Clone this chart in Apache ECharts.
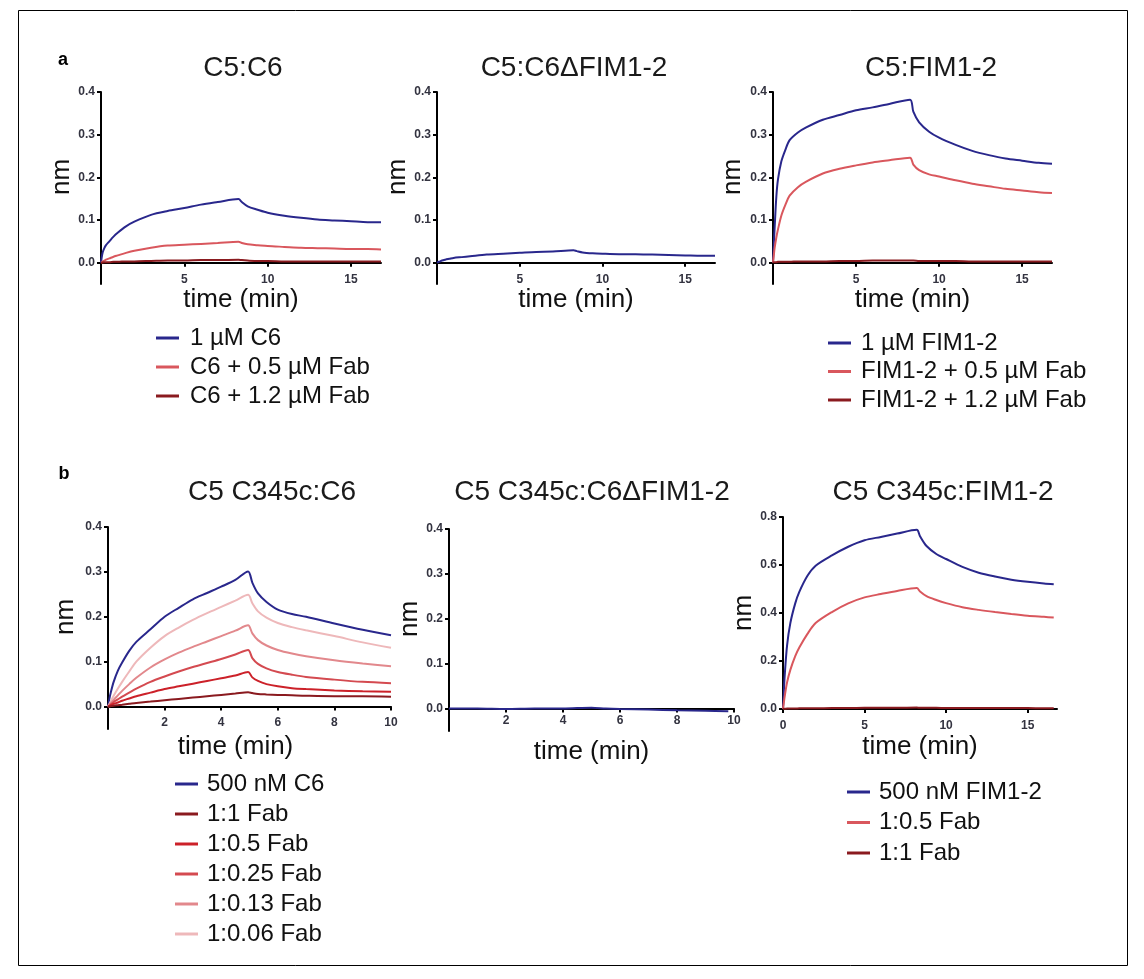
<!DOCTYPE html>
<html>
<head>
<meta charset="utf-8">
<script src="https://cdn.jsdelivr.net/npm/echarts@6/dist/echarts.min.js"></script>
<style>html,body{margin:0;padding:0;background:#fff;}#c{width:1144px;height:979px;}</style>
</head>
<body>
<div id="c"></div>
<script>
// ---------- data ----------
const panelTitles = ['C5:C6', 'C5:C6\u0394FIM1-2', 'C5:FIM1-2', 'C5 C345c:C6', 'C5 C345c:C6\u0394FIM1-2', 'C5 C345c:FIM1-2'];

// top row time points (min)
const tA = [0, 0.05, 0.1, 0.2, 0.3, 0.5, 0.75, 1, 1.5, 2, 3, 4, 5, 6, 7, 8.25, 8.45, 8.8, 9.4, 10, 11, 12, 13, 14, 15, 16, 16.8];
const a1Blue = [0, 0.014, 0.024, 0.034, 0.041, 0.050, 0.061, 0.070, 0.085, 0.096, 0.112, 0.121, 0.128, 0.136, 0.142, 0.149, 0.142, 0.132, 0.124, 0.117, 0.110, 0.105, 0.101, 0.099, 0.097, 0.095, 0.095];
const a1Red = [0, 0.001, 0.003, 0.005, 0.007, 0.010, 0.014, 0.017, 0.023, 0.028, 0.035, 0.040, 0.042, 0.044, 0.046, 0.049, 0.046, 0.043, 0.041, 0.039, 0.037, 0.035, 0.034, 0.033, 0.032, 0.032, 0.031];
const a1Dark = [0, 0, 0.0005, 0.001, 0.001, 0.001, 0.002, 0.002, 0.003, 0.003, 0.004, 0.005, 0.005, 0.006, 0.006, 0.007, 0.006, 0.005, 0.004, 0.004, 0.003, 0.003, 0.003, 0.003, 0.003, 0.003, 0.003];
const a2Blue = [0, 0.001, 0.002, 0.003, 0.005, 0.007, 0.009, 0.011, 0.013, 0.015, 0.019, 0.021, 0.023, 0.025, 0.026, 0.029, 0.027, 0.024, 0.022, 0.021, 0.020, 0.020, 0.019, 0.018, 0.017, 0.016, 0.016];
const a3Blue = [0, 0.045, 0.083, 0.154, 0.195, 0.237, 0.265, 0.287, 0.305, 0.317, 0.335, 0.346, 0.357, 0.364, 0.372, 0.382, 0.354, 0.329, 0.307, 0.293, 0.276, 0.262, 0.252, 0.244, 0.239, 0.234, 0.232];
const a3Red = [0, 0.018, 0.035, 0.059, 0.078, 0.110, 0.136, 0.157, 0.177, 0.190, 0.209, 0.220, 0.228, 0.235, 0.240, 0.246, 0.230, 0.217, 0.207, 0.202, 0.193, 0.185, 0.179, 0.173, 0.169, 0.165, 0.163];
const a3Dark = [0, 0.001, 0.001, 0.001, 0.002, 0.002, 0.002, 0.002, 0.003, 0.003, 0.003, 0.004, 0.004, 0.005, 0.005, 0.005, 0.005, 0.004, 0.004, 0.004, 0.004, 0.003, 0.003, 0.003, 0.003, 0.003, 0.003];

// bottom-left time points (min)
const tB = [0, 0.05, 0.1, 0.2, 0.35, 0.5, 0.75, 1, 1.5, 2, 2.5, 3, 3.5, 4, 4.5, 4.95, 5.1, 5.3, 5.6, 6, 6.5, 7, 8, 9, 10];
const b1Blue = [0, 0.018, 0.032, 0.055, 0.080, 0.098, 0.124, 0.144, 0.172, 0.200, 0.220, 0.239, 0.253, 0.267, 0.282, 0.301, 0.276, 0.252, 0.233, 0.216, 0.206, 0.200, 0.185, 0.171, 0.159];
const b1F006 = [0, 0.006, 0.012, 0.024, 0.040, 0.055, 0.078, 0.100, 0.131, 0.157, 0.176, 0.193, 0.208, 0.222, 0.236, 0.249, 0.230, 0.212, 0.198, 0.186, 0.177, 0.170, 0.157, 0.143, 0.131];
const b1F013 = [0, 0.004, 0.008, 0.015, 0.025, 0.035, 0.050, 0.064, 0.087, 0.105, 0.120, 0.133, 0.145, 0.157, 0.169, 0.181, 0.163, 0.148, 0.136, 0.126, 0.118, 0.112, 0.103, 0.096, 0.090];
const b1F025 = [0, 0.002, 0.005, 0.010, 0.016, 0.022, 0.031, 0.040, 0.055, 0.067, 0.078, 0.088, 0.097, 0.106, 0.116, 0.126, 0.108, 0.095, 0.085, 0.077, 0.071, 0.066, 0.060, 0.055, 0.052];
const b1F05 = [0, 0.001, 0.003, 0.006, 0.009, 0.013, 0.018, 0.023, 0.031, 0.039, 0.045, 0.051, 0.057, 0.063, 0.069, 0.077, 0.065, 0.057, 0.050, 0.045, 0.041, 0.039, 0.036, 0.034, 0.033];
const b1F1 = [0, 0, 0.001, 0.002, 0.003, 0.004, 0.006, 0.008, 0.011, 0.014, 0.017, 0.020, 0.023, 0.026, 0.029, 0.032, 0.030, 0.028, 0.027, 0.026, 0.025, 0.024, 0.023, 0.023, 0.022];

const tB2 = [0, 1, 2, 3, 4, 5, 5.5, 6, 7, 8, 9, 9.8];
const b2Blue = [0, 0, -0.001, 0, 0, 0.002, 0, -0.001, -0.002, -0.004, -0.005, -0.006];

const tC = [0, 0.05, 0.1, 0.25, 0.45, 0.75, 1, 1.5, 2, 3, 4, 5, 6, 7, 8.2, 8.4, 8.8, 9.4, 10, 11, 12, 13, 14, 15, 16, 16.6];
const b3Blue = [0, 0.07, 0.135, 0.265, 0.358, 0.44, 0.488, 0.555, 0.597, 0.640, 0.676, 0.703, 0.717, 0.731, 0.747, 0.720, 0.679, 0.646, 0.625, 0.592, 0.568, 0.552, 0.539, 0.530, 0.523, 0.520];
const b3Red = [0, 0.026, 0.051, 0.111, 0.163, 0.220, 0.256, 0.313, 0.358, 0.404, 0.440, 0.465, 0.479, 0.492, 0.504, 0.490, 0.470, 0.454, 0.441, 0.424, 0.413, 0.404, 0.396, 0.389, 0.384, 0.381];
const b3Dark = [0, 0.001, 0.001, 0.002, 0.002, 0.002, 0.003, 0.003, 0.003, 0.004, 0.004, 0.005, 0.005, 0.005, 0.006, 0.005, 0.005, 0.005, 0.004, 0.004, 0.004, 0.004, 0.004, 0.004, 0.003, 0.003];

// tick labels
const yTicks04 = [0, 0.1, 0.2, 0.3, 0.4];
const yTicks08 = [0, 0.2, 0.4, 0.6, 0.8];
const xTicks17 = [5, 10, 15];
const xTicks10 = [2, 4, 6, 8, 10];
const xTicks17z = [0, 5, 10, 15];

// legend labels
const legA1 = ['1 \u00b5M C6', 'C6 + 0.5 \u00b5M Fab', 'C6 + 1.2 \u00b5M Fab'];
const legA3 = ['1 \u00b5M FIM1-2', 'FIM1-2 + 0.5 \u00b5M Fab', 'FIM1-2 + 1.2 \u00b5M Fab'];
const legB1 = ['500 nM C6', '1:1 Fab', '1:0.5 Fab', '1:0.25 Fab', '1:0.13 Fab', '1:0.06 Fab'];
const legB3 = ['500 nM FIM1-2', '1:0.5 Fab', '1:1 Fab'];

// ---------- styling ----------
const FF = '"Liberation Sans", Arial, Helvetica, sans-serif';
const BLUE = '#29278c', REDA = '#d9575d', DARK = '#8a1a1f';
const R05 = '#cc2129', R025 = '#d44a50', R013 = '#e2888c', R006 = '#eeb8ba';

const grids = [
  {left: 101, top: 92, width: 280, height: 192},
  {left: 437, top: 92, width: 278, height: 192},
  {left: 773, top: 92, width: 279, height: 192},
  {left: 108, top: 527, width: 283, height: 202},
  {left: 449, top: 529, width: 285, height: 202},
  {left: 783, top: 517, width: 274, height: 192}
].map(g => Object.assign({containLabel: false, outerBoundsMode: 'none'}, g));

function xAx(gi, max, ticks, labelMargin, nameGap, namePad) {
  return {
    type: 'value', gridIndex: gi, min: 0, max: max,
    name: 'time (min)', nameLocation: 'middle', nameGap: nameGap,
    nameTextStyle: {fontSize: 26, color: '#111', fontFamily: FF, padding: namePad || 0},
    axisLine: {show: true, onZero: true, lineStyle: {color: '#000', width: 2}},
    axisTick: {show: true, length: 4, customValues: ticks, lineStyle: {color: '#000', width: 2}},
    axisLabel: {customValues: ticks, margin: labelMargin, fontSize: 12, fontWeight: 'bold', color: '#333340', fontFamily: FF},
    splitLine: {show: false}
  };
}
function yAx(gi, min, max, ticks, nameGap, namePad) {
  return {
    type: 'value', gridIndex: gi, min: min, max: max,
    name: 'nm', nameLocation: 'middle', nameGap: nameGap,
    nameTextStyle: {fontSize: 26, color: '#111', fontFamily: FF, padding: namePad || 0},
    axisLine: {show: true, onZero: false, lineStyle: {color: '#000', width: 2}},
    axisTick: {show: true, length: 4, customValues: ticks, lineStyle: {color: '#000', width: 2}},
    axisLabel: {customValues: ticks, margin: 6, fontSize: 12, fontWeight: 'bold', color: '#333340', fontFamily: FF,
                formatter: v => Number(v).toFixed(1)},
    splitLine: {show: false}
  };
}

const xAxes = [
  xAx(0, 16.8, xTicks17, -10, 0),
  xAx(1, 16.8, xTicks17, -10, 0.5),
  xAx(2, 16.8, xTicks17, -10, 2),
  xAx(3, 10, xTicks10, -12, 5, [0, 28, 0, 0]),
  xAx(4, 10, xTicks10, -16, 8),
  xAx(5, 16.8, xTicks17z, 11, 25)
];
const yAxes = [
  yAx(0, -0.05, 0.4, yTicks04, 20, [0, 0, 0, 22]),
  yAx(1, -0.05, 0.4, yTicks04, 22, [0, 0, 0, 22]),
  yAx(2, -0.05, 0.4, yTicks04, 27, [0, 0, 0, 22]),
  yAx(3, -0.05, 0.4, yTicks04, 29, [0, 0, 0, 22]),
  yAx(4, -0.05, 0.4, yTicks04, 20, [0, 0, 0, 22]),
  yAx(5, 0, 0.8, yTicks08, 22)
];

function pairs(t, y) { return t.map((v, i) => [v, y[i]]); }
function line(name, gi, t, y, color, z) {
  return {
    type: 'line', name: name, xAxisIndex: gi, yAxisIndex: gi,
    data: pairs(t, y), showSymbol: false, symbol: 'none', smooth: 0.3,
    lineStyle: {color: color, width: 2}, itemStyle: {color: color},
    z: z || 2, animation: false, silent: true
  };
}

const series = [
  line(legA1[0], 0, tA, a1Blue, BLUE),
  line(legA1[1], 0, tA, a1Red, REDA),
  line(legA1[2], 0, tA, a1Dark, DARK, 3),
  line(legA1[0], 1, tA, a2Blue, BLUE),
  line(legA3[0], 2, tA, a3Blue, BLUE),
  line(legA3[1], 2, tA, a3Red, REDA),
  line(legA3[2], 2, tA, a3Dark, DARK, 3),
  line(legB1[0], 3, tB, b1Blue, BLUE),
  line(legB1[5], 3, tB, b1F006, R006),
  line(legB1[4], 3, tB, b1F013, R013),
  line(legB1[3], 3, tB, b1F025, R025),
  line(legB1[2], 3, tB, b1F05, R05),
  line(legB1[1], 3, tB, b1F1, DARK),
  line(legB1[0], 4, tB2, b2Blue, BLUE),
  line(legB3[0], 5, tC, b3Blue, BLUE),
  line(legB3[1], 5, tC, b3Red, REDA),
  line(legB3[2], 5, tC, b3Dark, DARK, 3)
];

function legend(names, colors, left, top, gap, pad) {
  return {
    orient: 'vertical', left: left, top: top, padding: 0,
    icon: 'rect', itemWidth: 23, itemHeight: 3, itemGap: gap,
    selectedMode: false,
    textStyle: {fontSize: 24, lineHeight: 24, color: '#111', fontFamily: FF, padding: [0, 0, 0, pad]},
    data: names.map((n, i) => ({name: n, itemStyle: {color: colors[i]}}))
  };
}
const legends = [
  legend(legA1, [BLUE, REDA, DARK], 156, 326, 5, 6),
  legend(legA3, [BLUE, REDA, DARK], 828, 331, 4.5, 5),
  legend(legB1, [BLUE, DARK, R05, R025, R013, R006], 175, 772, 6, 4),
  legend(legB3, [BLUE, REDA, DARK], 847, 780, 6.5, 4)
];

const titleCenters = [[243, 68], [574, 68], [931, 68], [272, 492], [592, 492], [943, 492]];
const graphics = [
  {type: 'rect', shape: {x: 18.5, y: 10.5, width: 1109, height: 955}, style: {fill: 'none', stroke: '#000', lineWidth: 1}, silent: true},
  {type: 'text', x: 63, y: 60, style: {text: 'a', font: 'bold 18px ' + FF, fill: '#000', align: 'center', verticalAlign: 'middle'}},
  {type: 'text', x: 64, y: 474, style: {text: 'b', font: 'bold 18px ' + FF, fill: '#000', align: 'center', verticalAlign: 'middle'}}
].concat(panelTitles.map((t, i) => ({
  type: 'text', x: titleCenters[i][0], y: titleCenters[i][1],
  style: {text: t, font: '28px ' + FF, fill: '#1a1a1a', align: 'center', verticalAlign: 'middle'}
})));

const chart = echarts.init(document.getElementById('c'), null, {renderer: 'canvas'});
chart.setOption({
  animation: false,
  backgroundColor: '#fff',
  grid: grids,
  xAxis: xAxes,
  yAxis: yAxes,
  legend: legends,
  series: series,
  graphic: graphics
});
</script>
</body>
</html>
